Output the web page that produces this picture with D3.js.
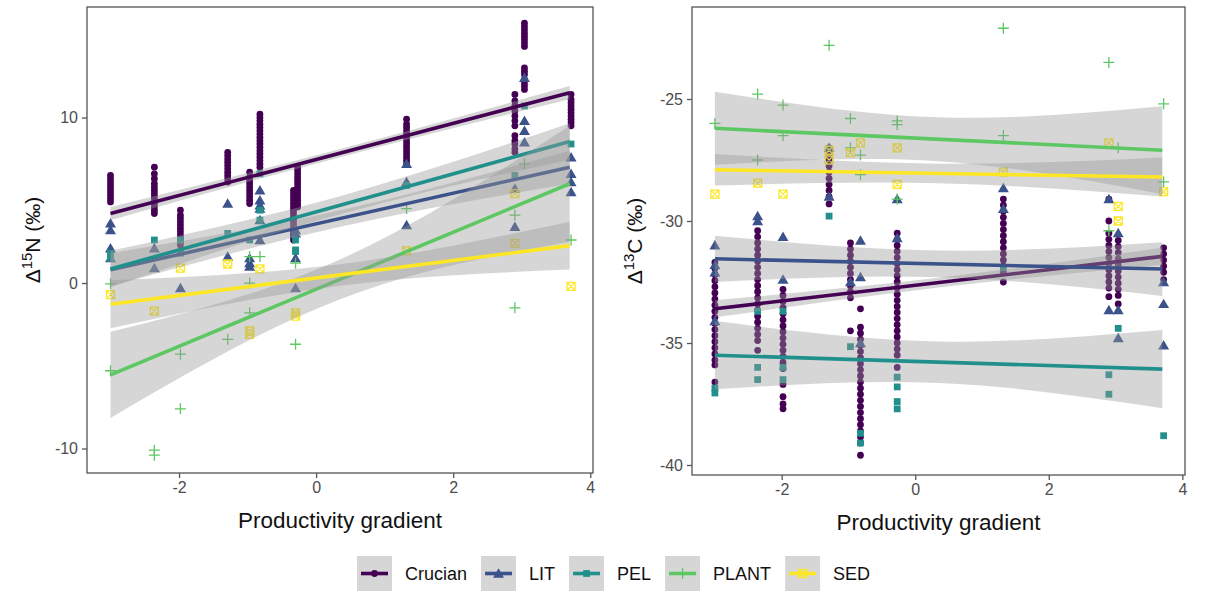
<!DOCTYPE html>
<html>
<head>
<meta charset="utf-8">
<script src="https://cdn.jsdelivr.net/npm/d3@7"></script>
<style>
body { margin: 0; background: #fff; }
text { font-family: "Liberation Sans", Arial, sans-serif; }
</style>
</head>
<body>
<svg width="1208" height="592"></svg>
<script>
// ---- data ----
var groups = ["Crucian", "LIT", "PEL", "PLANT", "SED"];
var colours = ["#440154", "#3B528B", "#21908C", "#5DC863", "#FDE725"];
var xTicks = [-2, 0, 2, 4];
var n15Ticks = [-10, 0, 10];
var c13Ticks = [-40, -35, -30, -25];

// crucian columns, [gradient, [values]]
var n15Crucian = [
  [-3.0, [4.9, 5.1, 5.3, 5.5, 5.7, 5.9, 6.1, 6.3, 6.5]],
  [-2.36, [4.2, 4.4, 4.6, 4.8, 5.0, 5.2, 5.4, 5.6, 5.8, 6.0, 6.3, 6.6, 7.0]],
  [-1.98, [2.3, 2.5, 2.7, 2.9, 3.1, 3.3, 3.5, 3.7, 3.9, 4.1, 4.4]],
  [-1.29, [6.1, 6.3, 6.5, 6.7, 6.9, 7.1, 7.3, 7.5, 7.7, 7.9]],
  [-0.97, [4.8, 5.0, 5.2, 5.4, 5.6, 5.8, 6.0, 6.2, 6.4, 6.7]],
  [-0.82, [7.0, 7.2, 7.4, 7.6, 7.8, 8.0, 8.2, 8.4, 8.6, 8.8, 9.0, 9.2, 9.4, 9.6, 9.8, 10.0, 10.2]],
  [-0.33, [2.6, 2.8, 3.0, 3.2, 3.4, 3.6, 3.8, 4.0, 4.2, 4.4, 4.6, 4.8, 5.0, 5.2, 5.4, 5.6]],
  [-0.27, [4.6, 4.8, 5.0, 5.2, 5.4, 5.6, 5.8, 6.0, 6.2, 6.4, 6.6, 6.8, 7.0]],
  [1.32, [7.2, 7.4, 7.6, 7.8, 8.0, 8.2, 8.4, 8.6, 8.8, 9.0, 9.2, 9.4, 9.6, 9.9]],
  [2.9, [7.9, 8.1, 8.4, 8.6, 8.9, 9.5, 9.8, 10.1, 10.4, 10.7, 11.0, 11.4]],
  [3.04, [11.7, 11.9, 12.1, 12.3, 12.6, 12.8, 13.0, 14.3, 14.5, 14.7, 14.9, 15.1, 15.3, 15.5, 15.7]],
  [3.72, [9.5, 9.7, 9.9, 10.1, 10.3, 10.5, 10.7, 10.9, 11.1, 11.4]]
];
var c13Crucian = [
  [-3.0, [-31.7, -31.95, -32.2, -32.45, -32.7, -32.95, -33.2, -33.45, -33.7, -33.95, -34.2, -34.45, -34.7, -34.95, -35.2, -35.45, -35.7, -35.9, -36.6]],
  [-2.36, [-30.4, -30.65, -30.9, -31.15, -31.4, -31.65, -31.9, -32.15, -32.4, -32.65, -32.9, -33.15, -33.4, -33.65, -33.9, -34.15, -34.4, -34.65, -34.9, -35.3]],
  [-1.98, [-32.8, -33.05, -33.3, -33.55, -33.8, -34.05, -34.3, -34.55, -34.8, -35.05, -35.3, -35.55, -35.8, -36.05, -36.7, -37.2, -37.5, -37.7]],
  [-1.29, [-27.0, -27.25, -27.5, -27.75, -28.0, -28.25, -28.5, -28.75, -29.0, -29.3]],
  [-0.97, [-30.9, -31.15, -31.4, -31.65, -31.9, -32.15, -32.4, -32.65, -32.9, -33.15, -34.5]],
  [-0.82, [-33.6, -34.35, -34.6, -34.85, -35.1, -35.35, -35.6, -35.85, -36.1, -36.35, -36.6, -36.85, -37.1, -37.35, -37.6, -37.85, -38.1, -38.35, -38.6, -38.85, -39.1, -39.6]],
  [-0.27, [-30.5, -30.75, -31.0, -31.25, -31.5, -31.75, -32.0, -32.25, -32.5, -32.75, -33.0, -33.25, -33.5, -33.75, -34.0, -34.25, -34.5, -34.75, -35.0, -35.25, -35.5, -36.0]],
  [1.32, [-29.1, -29.35, -29.6, -29.85, -30.1, -30.35, -30.6, -30.85, -31.1, -31.35, -31.6, -31.85, -32.1, -32.5]],
  [2.9, [-29.1, -30.0, -30.5, -30.75, -31.0, -31.25, -31.5, -31.75, -32.0, -32.25, -32.5, -32.75, -33.1]],
  [3.04, [-30.8, -31.05, -31.3, -31.55, -31.8, -32.05, -32.3, -32.55, -32.8, -33.05, -33.4]],
  [3.72, [-31.1, -31.35, -31.6, -31.85, -32.1, -32.4]]
];

// prey samples, [gradient, value]
var n15Lit = [[-3.0, 3.6], [-3.0, 3.2], [-3.0, 2.1], [-3.0, 1.5], [-2.36, 2.1], [-2.36, 0.9],
  [-1.98, -0.3], [-1.29, 4.8], [-1.29, 1.6], [-0.97, 1.5], [-0.97, 1.0], [-0.97, 1.2],
  [-0.82, 5.6], [-0.82, 5.0], [-0.82, 4.7], [-0.82, 4.5], [-0.82, 3.8], [-0.82, 2.6],
  [-0.3, 3.0], [-0.3, 1.5], [-0.3, 3.2], [-0.3, -0.3], [1.32, 7.2], [1.32, 6.1], [1.32, 3.5],
  [2.9, 5.7], [2.9, 3.4], [3.04, 12.4], [3.04, 9.8], [3.04, 9.2], [3.04, 8.5],
  [3.72, 7.6], [3.72, 6.6], [3.72, 6.1], [3.72, 5.5]];
var n15Pel = [[-3.0, 1.8], [-3.0, 1.5], [-2.36, 2.6], [-1.98, 2.6], [-1.98, 1.8], [-1.29, 3.0],
  [-0.97, 2.6], [-0.82, 6.6], [-0.82, 4.4], [-0.82, 3.8], [-0.3, 2.6], [-0.3, 2.0], [-0.3, 1.9],
  [1.32, 5.9], [2.9, 6.5], [3.04, 10.7], [3.72, 8.4]];
var n15Plant = [[-3.0, -0.05], [-3.0, -5.3], [-2.36, -10.4], [-2.36, -10.1], [-1.98, -4.3], [-1.98, -7.6],
  [-1.29, -3.4], [-0.97, 0.0], [-0.97, -1.8], [-0.97, 1.6], [-0.82, 1.6], [-0.3, -3.7], [-0.3, 1.2],
  [1.32, 4.5], [2.9, 4.1], [2.9, -1.5], [3.04, 7.2], [3.72, 2.6]];
var n15Sed = [[-3.0, -0.7], [-2.36, -1.7], [-1.98, 0.9], [-1.29, 1.15], [-0.97, -2.9], [-0.97, -3.1],
  [-0.82, 0.85], [-0.3, -1.8], [-0.3, -2.0], [1.32, 1.95], [2.9, 5.4], [2.9, 2.4], [3.72, -0.2]];

var c13Lit = [[-3.0, -31.0], [-3.0, -31.8], [-3.0, -32.1], [-3.0, -34.1], [-2.36, -29.8], [-2.36, -30.0],
  [-1.98, -30.65], [-1.98, -32.4], [-1.29, -27.0], [-1.29, -29.0], [-0.97, -32.5], [-0.82, -30.8],
  [-0.82, -32.3], [-0.82, -35.0], [-0.27, -29.1], [-0.27, -30.7], [1.32, -28.65], [1.32, -29.5],
  [2.9, -29.1], [2.9, -33.65], [3.04, -30.5], [3.04, -33.65], [3.04, -34.8],
  [3.72, -32.5], [3.72, -33.4], [3.72, -35.1]];
var c13Pel = [[-3.0, -36.85], [-3.0, -37.05], [-2.36, -33.7], [-2.36, -36.0], [-2.36, -36.5],
  [-1.98, -33.7], [-1.98, -36.0], [-1.98, -36.5], [-1.29, -29.8], [-0.97, -35.15], [-0.82, -38.7],
  [-0.82, -39.1], [-0.27, -36.4], [-0.27, -36.8], [-0.27, -37.4], [-0.27, -37.7], [1.32, -31.9],
  [2.9, -36.3], [2.9, -37.1], [3.04, -34.4], [3.72, -38.8]];
var c13Plant = [[-3.0, -26.0], [-2.36, -24.8], [-2.36, -27.5], [-1.98, -25.25], [-1.98, -26.5],
  [-1.29, -22.8], [-0.97, -25.8], [-0.97, -27.0], [-0.82, -27.3], [-0.82, -28.1], [-0.27, -25.9],
  [-0.27, -26.05], [-0.27, -29.1], [1.32, -22.1], [1.32, -26.5], [2.9, -23.5], [2.9, -30.4],
  [3.04, -27.0], [3.72, -25.2], [3.72, -28.4]];
var c13Sed = [[-3.0, -28.9], [-2.36, -28.45], [-1.98, -28.9], [-1.29, -27.1], [-1.29, -27.5],
  [-0.97, -27.2], [-0.82, -26.8], [-0.27, -27.0], [-0.27, -28.5], [1.32, -28.0], [2.9, -26.8],
  [3.04, -29.4], [3.04, -30.0], [3.72, -28.8]];

// fitted lines, value at fitX[0] and fitX[1], per group
var fitX = [-3.0, 3.7];
var n15Fit = [[4.2, 11.5], [0.8, 7.0], [0.85, 8.55], [-5.55, 6.0], [-1.28, 2.26]];
var c13Fit = [[-33.6, -31.45], [-31.55, -31.97], [-35.5, -36.07], [-26.2, -27.1], [-27.9, -28.2]];
// confidence ribbon half width at bandX
var bandX = [-3.0, 0.35, 3.7];
var n15Band = [[0.4, 0.25, 0.4], [1.0, 0.5, 1.0], [1.1, 0.55, 1.1], [2.6, 1.2, 3.5], [1.45, 0.65, 1.45]];
var c13Band = [[0.35, 0.2, 0.35], [0.95, 0.55, 1.1], [1.4, 0.85, 1.6], [1.5, 0.9, 1.8], [0.65, 0.4, 0.8]];

// ---- drawing ----
var svg = d3.select("svg");

function shape(g, gi, px, py, col) {
  if (gi == 0) {
    g.append("circle").attr("cx", px).attr("cy", py).attr("r", 3.4).attr("fill", col);
  } else if (gi == 1) {
    g.append("path").attr("d", d3.symbol(d3.symbolTriangle, 52)())
      .attr("transform", "translate(" + px + "," + (py + 1) + ")").attr("fill", col);
  } else if (gi == 2) {
    g.append("path").attr("d", d3.symbol(d3.symbolSquare, 46)())
      .attr("transform", "translate(" + px + "," + py + ")").attr("fill", col);
  } else if (gi == 3) {
    g.append("path").attr("d", "M-5.5,0H5.5M0,-5.5V5.5")
      .attr("transform", "translate(" + px + "," + py + ")")
      .attr("stroke", col).attr("stroke-width", 1.3).attr("fill", "none");
  } else {
    g.append("path").attr("d", "M-4,-4H4V4H-4ZM-4,-4L4,4M4,-4L-4,4")
      .attr("transform", "translate(" + px + "," + py + ")")
      .attr("stroke", col).attr("stroke-width", 1.3).attr("fill", "none");
  }
}

function panel(o) {
  var x = d3.scaleLinear().domain([-3.343, 4.04]).range([o.left, o.right]);
  var y = d3.scaleLinear().domain(o.ydom).range([o.bottom, o.top]);
  var g = svg.append("g");

  // points
  var pg = g.append("g");
  o.crucian.forEach(function(c) {
    c[1].forEach(function(v) { shape(pg, 0, x(c[0]), y(v), colours[0]); });
  });
  o.prey.forEach(function(arr, k) {
    arr.forEach(function(d) { shape(pg, k + 1, x(d[0]), y(d[1]), colours[k + 1]); });
  });

  // smooths
  groups.forEach(function(grp, i) {
    var f = o.fit[i];
    var lineAt = function(xv) { return f[0] + (f[1] - f[0]) * (xv - fitX[0]) / (fitX[1] - fitX[0]); };
    var bd = bandX.map(function(xv, j) { return [xv, lineAt(xv), o.band[i][j]]; });
    g.append("path").datum(bd)
      .attr("d", d3.area().curve(d3.curveNatural)
        .x(function(d) { return x(d[0]); })
        .y0(function(d) { return y(d[1] - d[2]); })
        .y1(function(d) { return y(d[1] + d[2]); }))
      .attr("fill", "#999999").attr("fill-opacity", 0.4);
    g.append("path").datum(fitX.map(function(xv, j) { return [xv, f[j]]; }))
      .attr("d", d3.line().x(function(d) { return x(d[0]); }).y(function(d) { return y(d[1]); }))
      .attr("stroke", colours[i]).attr("stroke-width", 3.6).attr("fill", "none");
  });

  // border
  g.append("rect").attr("x", o.left).attr("y", o.top)
    .attr("width", o.right - o.left).attr("height", o.bottom - o.top)
    .attr("fill", "none").attr("stroke", "#555").attr("stroke-width", 1.3);

  var fmt = function(d) { return String(d); };
  var ax = g.append("g").attr("transform", "translate(0," + o.bottom + ")")
    .call(d3.axisBottom(x).tickValues(xTicks).tickSize(5).tickPadding(4).tickFormat(fmt));
  var ay = g.append("g").attr("transform", "translate(" + o.left + ",0)")
    .call(d3.axisLeft(y).tickValues(o.yticks).tickSize(5).tickPadding(4).tickFormat(fmt));
  [ax, ay].forEach(function(a) {
    a.select(".domain").remove();
    a.selectAll("line").attr("stroke", "#555").attr("stroke-width", 1.3);
    a.selectAll("text").attr("fill", "#4d4d4d").style("font-size", "16px")
      .style("font-family", "'Liberation Sans', Arial, sans-serif");
  });

  g.append("text").attr("x", (o.left + o.right) / 2).attr("y", o.bottom + 55)
    .attr("text-anchor", "middle").style("font-size", "22.5px").attr("fill", "#111")
    .text("Productivity gradient");

  var t = g.append("text").attr("transform", "translate(" + o.titleX + "," + ((o.top + o.bottom) / 2) + ") rotate(-90)")
    .attr("text-anchor", "middle").style("font-size", "21px").attr("fill", "#111");
  t.append("tspan").text("\u0394");
  t.append("tspan").attr("dy", -8).style("font-size", "15px").text(o.iso);
  t.append("tspan").attr("dy", 8).text(o.el + " (\u2030)");
}

panel({ left: 87, right: 593, top: 7, bottom: 473, ydom: [-11.48, 16.68], yticks: n15Ticks,
  crucian: n15Crucian, prey: [n15Lit, n15Pel, n15Plant, n15Sed], fit: n15Fit, band: n15Band,
  titleX: 40, iso: "15", el: "N" });
panel({ left: 692, right: 1185, top: 7, bottom: 475, ydom: [-40.41, -21.23], yticks: c13Ticks,
  crucian: c13Crucian, prey: [c13Lit, c13Pel, c13Plant, c13Sed], fit: c13Fit, band: c13Band,
  titleX: 642, iso: "13", el: "C" });

// legend
var lx = 357, ly = 556, ks = 35;
groups.forEach(function(grp, i) {
  var lg = svg.append("g");
  lg.append("rect").attr("x", lx).attr("y", ly).attr("width", ks).attr("height", ks).attr("fill", "#d6d6d6");
  lg.append("line").attr("x1", lx + 4).attr("x2", lx + ks - 4).attr("y1", ly + ks / 2).attr("y2", ly + ks / 2)
    .attr("stroke", colours[i]).attr("stroke-width", 3.6);
  shape(lg, i, lx + ks / 2, ly + ks / 2, colours[i]);
  var tx = lg.append("text").attr("x", lx + ks + 13).attr("y", ly + ks / 2 + 6)
    .style("font-size", "18px").attr("fill", "#111").text(grp);
  lx = lx + ks + 13 + tx.node().getComputedTextLength() + 14;
});
</script>
</body>
</html>
